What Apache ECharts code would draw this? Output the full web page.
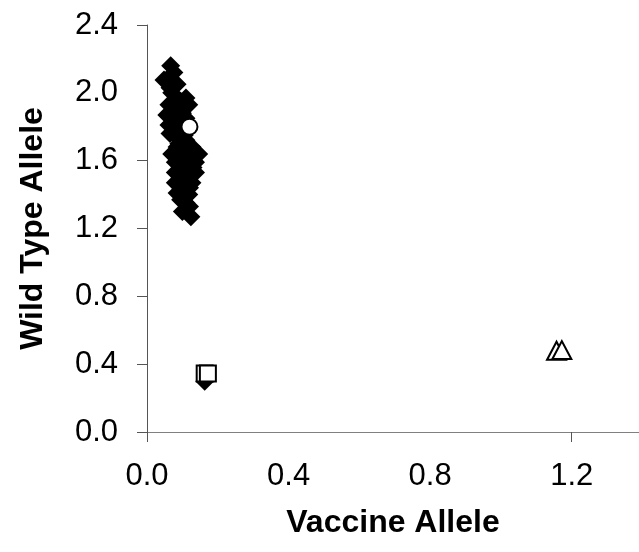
<!DOCTYPE html>
<html>
<head>
    <meta charset="utf-8">
    <title>Wild Type vs Vaccine Allele</title>
    <script src="https://cdn.jsdelivr.net/npm/echarts@6/dist/echarts.min.js"></script>
    <style>
        html, body { margin: 0; padding: 0; background: #fff; }
    </style>
</head>
<body>
    <div id="main" style="width: 639px;height:552px;"></div>

    <script type="text/javascript">
        // samples, [vaccine allele, wild type allele]
        var diamonds = [
            [0.067, 2.16], [0.076, 2.12], [0.048, 2.075], [0.065, 2.03],
            [0.070, 2.00], [0.110, 1.97], [0.062, 1.93], [0.118, 1.93],
            [0.056, 1.87], [0.090, 1.83], [0.062, 1.81], [0.080, 1.75],
            [0.090, 1.70], [0.127, 1.68], [0.070, 1.64], [0.146, 1.64],
            [0.080, 1.59], [0.137, 1.59], [0.080, 1.53], [0.137, 1.53],
            [0.080, 1.47], [0.127, 1.47], [0.085, 1.41], [0.118, 1.40],
            [0.110, 1.35], [0.100, 1.30], [0.124, 1.27], [0.163, 0.30],
            [0.085, 2.05], [0.095, 1.95], [0.080, 1.90], [0.100, 1.88],
            [0.110, 1.85], [0.075, 1.85], [0.100, 1.78], [0.065, 1.76],
            [0.110, 1.72], [0.100, 1.66], [0.120, 1.62], [0.105, 1.60],
            [0.100, 1.55], [0.115, 1.50], [0.105, 1.45], [0.100, 1.42],
            [0.095, 1.37], [0.120, 1.33], [0.090, 1.62], [0.130, 1.56],
            [0.105, 1.75], [0.085, 1.68], [0.120, 1.44], [0.110, 1.54]
        ];
        var squares = [[0.163, 0.345], [0.172, 0.345]];
        var triangles = [[1.157, 0.479], [1.172, 0.483]];
        var circles = [[0.120, 1.80]];

        var xLabels = [0, 0.4, 0.8, 1.2];
        var xTicks = [0, 1.2];
        var yTicks = [0, 0.4, 0.8, 1.2, 1.6, 2.4];

        var myChart = echarts.init(document.getElementById('main'));

        var font = '"Liberation Sans", Arial, sans-serif';
        var openStyle = { color: '#fff', borderColor: '#000', borderWidth: 2, opacity: 1 };

        var option = {
            animation: false,
            grid: { left: 147, right: 0, top: 25, bottom: 120 },
            xAxis: {
                type: 'value',
                min: 0,
                max: 1.39,
                interval: 0.4,
                name: 'Vaccine Allele',
                nameLocation: 'middle',
                nameGap: 75,
                nameTextStyle: { fontFamily: font, fontSize: 32, fontWeight: 'bold', color: '#000' },
                axisLine: { onZero: false, lineStyle: { color: '#808080', width: 1 } },
                axisTick: { show: true, length: 10, customValues: xTicks, lineStyle: { color: '#555' } },
                axisLabel: {
                    customValues: xLabels, margin: 29,
                    fontFamily: font, fontSize: 31, color: '#000',
                    formatter: function (v) { return v.toFixed(1); }
                },
                splitLine: { show: false }
            },
            yAxis: {
                type: 'value',
                min: 0,
                max: 2.4,
                interval: 0.4,
                name: 'Wild Type Allele',
                nameLocation: 'middle',
                nameGap: 98,
                nameTextStyle: { fontFamily: font, fontSize: 32, fontWeight: 'bold', color: '#000' },
                axisLine: { show: true, onZero: false, lineStyle: { color: '#555', width: 1 } },
                axisTick: { show: true, length: 10, customValues: yTicks, lineStyle: { color: '#555' } },
                axisLabel: {
                    margin: 29,
                    fontFamily: font, fontSize: 31, color: '#000',
                    formatter: function (v) { return v.toFixed(1); }
                },
                splitLine: { show: false }
            },
            series: [
                {
                    type: 'scatter', data: diamonds, symbol: 'diamond', symbolSize: 19,
                    itemStyle: { color: '#000', opacity: 1 }
                },
                {
                    type: 'scatter', data: squares, symbol: 'rect', symbolSize: 16,
                    itemStyle: openStyle
                },
                {
                    type: 'scatter', data: triangles, symbol: 'triangle', symbolSize: [19, 18],
                    itemStyle: openStyle
                },
                {
                    type: 'scatter', data: circles, symbol: 'circle', symbolSize: 16,
                    itemStyle: openStyle
                }
            ]
        };

        myChart.setOption(option);
    </script>
</body>
</html>
